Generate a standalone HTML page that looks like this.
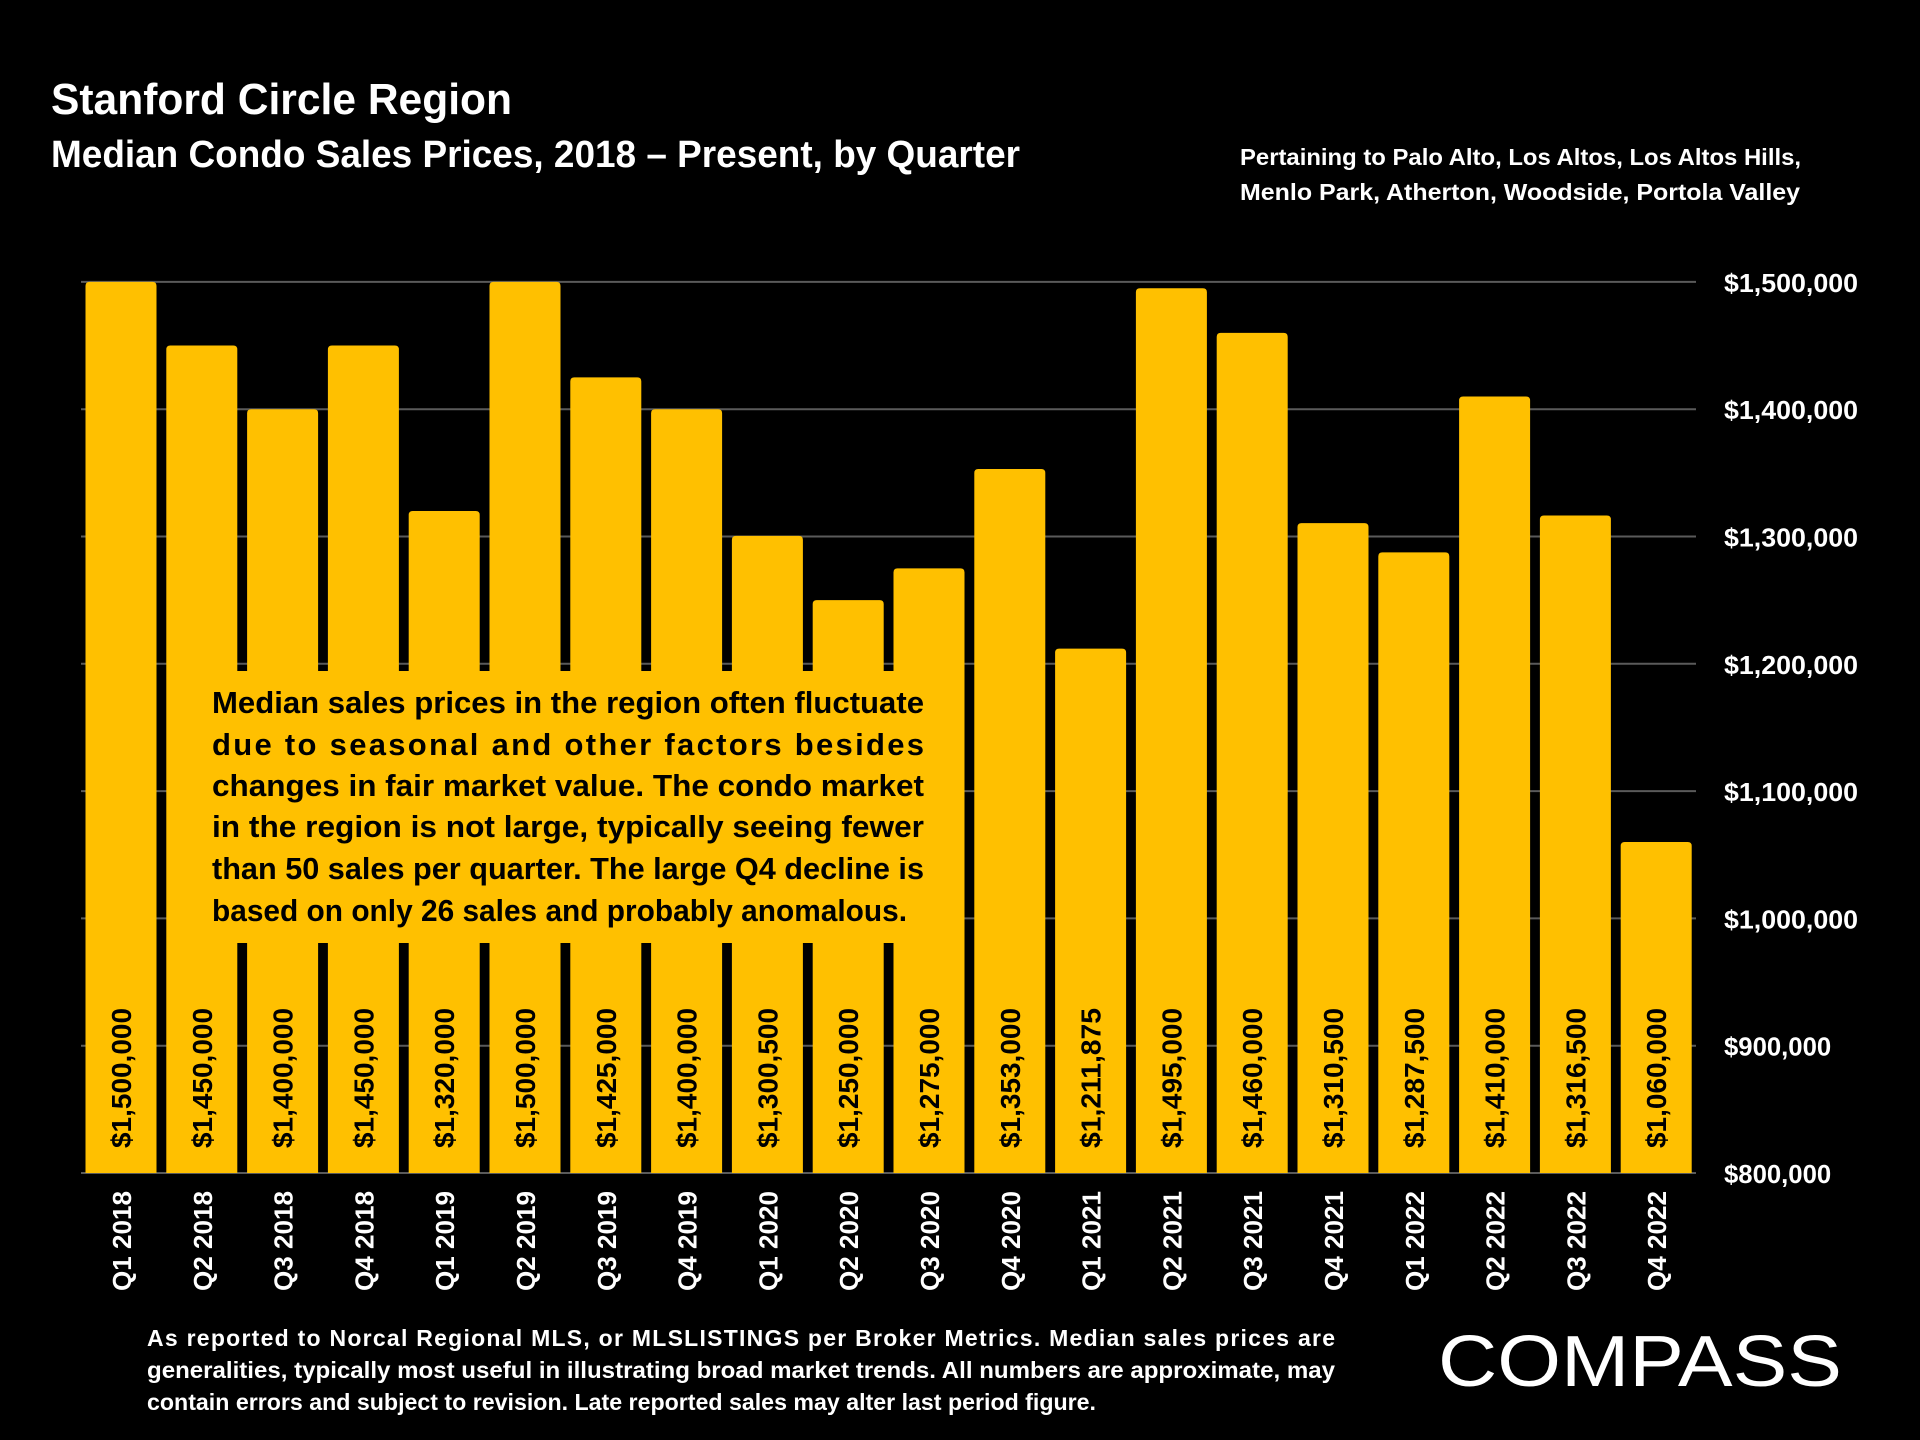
<!DOCTYPE html>
<html><head><meta charset="utf-8"><style>
html,body{margin:0;padding:0;background:#000;}
svg{display:block;font-family:"Liberation Sans",sans-serif;}
</style></head><body>
<svg id="chart" width="1920" height="1440" viewBox="0 0 1920 1440">
<rect width="1920" height="1440" fill="#000"/>
<text x="51" y="114" font-size="44" font-weight="bold" fill="#fff" textLength="461" lengthAdjust="spacingAndGlyphs">Stanford Circle Region</text>
<text x="51" y="167" font-size="38" font-weight="bold" fill="#fff" textLength="969" lengthAdjust="spacingAndGlyphs">Median Condo Sales Prices, 2018 – Present, by Quarter</text>
<text x="1240" y="165" font-size="23" font-weight="bold" fill="#fff" textLength="561" lengthAdjust="spacingAndGlyphs">Pertaining to Palo Alto, Los Altos, Los Altos Hills,</text>
<text x="1240" y="200" font-size="23" font-weight="bold" fill="#fff" textLength="560" lengthAdjust="spacingAndGlyphs">Menlo Park, Atherton, Woodside, Portola Valley</text>
<g id="grid"></g>
<g id="bars"></g>
<g id="ylabels"></g>
<g id="xlabels"></g>
<g>
<rect x="190" y="671" width="754" height="272" fill="#FFC000"/>
<g font-size="31" font-weight="bold" fill="#000">
<text x="212" y="713" textLength="712" lengthAdjust="spacingAndGlyphs">Median sales prices in the region often fluctuate</text>
<text x="212" y="755" textLength="712" lengthAdjust="spacing">due to seasonal and other factors besides</text>
<text x="212" y="796" textLength="712" lengthAdjust="spacingAndGlyphs">changes in fair market value. The condo market</text>
<text x="212" y="837" textLength="712" lengthAdjust="spacingAndGlyphs">in the region is not large, typically seeing fewer</text>
<text x="212" y="879" textLength="712" lengthAdjust="spacingAndGlyphs">than 50 sales per quarter. The large Q4 decline is</text>
<text x="212" y="921" textLength="695" lengthAdjust="spacingAndGlyphs">based on only 26 sales and probably anomalous.</text>
</g></g>
<g font-size="23" font-weight="bold" fill="#fff">
<text x="147" y="1346" textLength="1188" lengthAdjust="spacing">As reported to Norcal Regional MLS, or MLSLISTINGS per Broker Metrics. Median sales prices are</text>
<text x="147" y="1378" textLength="1188" lengthAdjust="spacingAndGlyphs">generalities, typically most useful in illustrating broad market trends. All numbers are approximate, may</text>
<text x="147" y="1410" textLength="949" lengthAdjust="spacingAndGlyphs">contain errors and subject to revision. Late reported sales may alter last period figure.</text>
</g>
<text x="1438" y="1386" font-size="72" fill="#fff" textLength="404" lengthAdjust="spacingAndGlyphs">COMPASS</text>
</svg>
<script>
const categories=["Q1 2018","Q2 2018","Q3 2018","Q4 2018","Q1 2019","Q2 2019","Q3 2019","Q4 2019","Q1 2020","Q2 2020","Q3 2020","Q4 2020","Q1 2021","Q2 2021","Q3 2021","Q4 2021","Q1 2022","Q2 2022","Q3 2022","Q4 2022"];
const values=[1500000,1450000,1400000,1450000,1320000,1500000,1425000,1400000,1300500,1250000,1275000,1353000,1211875,1495000,1460000,1310500,1287500,1410000,1316500,1060000];
const valueLabels=["$1,500,000","$1,450,000","$1,400,000","$1,450,000","$1,320,000","$1,500,000","$1,425,000","$1,400,000","$1,300,500","$1,250,000","$1,275,000","$1,353,000","$1,211,875","$1,495,000","$1,460,000","$1,310,500","$1,287,500","$1,410,000","$1,316,500","$1,060,000"];
const yTicks=[800000,900000,1000000,1100000,1200000,1300000,1400000,1500000];
const yTickLabels=["$800,000","$900,000","$1,000,000","$1,100,000","$1,200,000","$1,300,000","$1,400,000","$1,500,000"];
const NS="http://www.w3.org/2000/svg";
const y0=1173,pxPer=1273/1000000,yMin=800000;
function yScale(v){return y0-(v-yMin)*pxPer;}
const x0=85.5,pitch=80.8,bw=71;
function xScale(i){return x0+i*pitch;}
function mk(tag,attrs,parent){const e=document.createElementNS(NS,tag);for(const k in attrs)e.setAttribute(k,attrs[k]);parent.appendChild(e);return e;}
const grid=document.getElementById('grid'),bars=document.getElementById('bars'),yl=document.getElementById('ylabels'),xl=document.getElementById('xlabels');
yTicks.forEach((t,i)=>{
  const y=yScale(t);
  const l=mk('line',{x1:81,x2:1696,y1:y,y2:y,stroke:'#5a5a5a','stroke-width':2},grid);
  
  
  const tx=mk('text',{x:1724,y:y+10,'font-size':26,'font-weight':'bold',fill:'#fff'},yl);
  tx.setAttribute('textLength',yTickLabels[i].length*13.4);
  tx.setAttribute('lengthAdjust','spacingAndGlyphs');
  tx.textContent=yTickLabels[i];
  
  
});
values.forEach((v,i)=>{
  const x=xScale(i),y=yScale(v);
  const p=mk('path',{d:`M${x},${y0} L${x},${y+4} Q${x},${y} ${x+4},${y} L${x+bw-4},${y} Q${x+bw},${y} ${x+bw},${y+4} L${x+bw},${y0} Z`,fill:'#FFC000'},bars);
  
  
  const cx=x+bw/2;
  const vt=mk('text',{x:0,y:0,'font-size':28,'font-weight':'bold',fill:'#000',transform:`translate(${cx+10},1148) rotate(-90)`,textLength:140,lengthAdjust:'spacingAndGlyphs'},bars);
  vt.textContent=valueLabels[i];
  
  
  const qt=mk('text',{x:0,y:0,'font-size':26,'font-weight':'bold',fill:'#fff',transform:`translate(${cx+10},1291) rotate(-90)`,textLength:100,lengthAdjust:'spacingAndGlyphs'},xl);
  qt.textContent=categories[i];
  
  
});
</script>
</body></html>
